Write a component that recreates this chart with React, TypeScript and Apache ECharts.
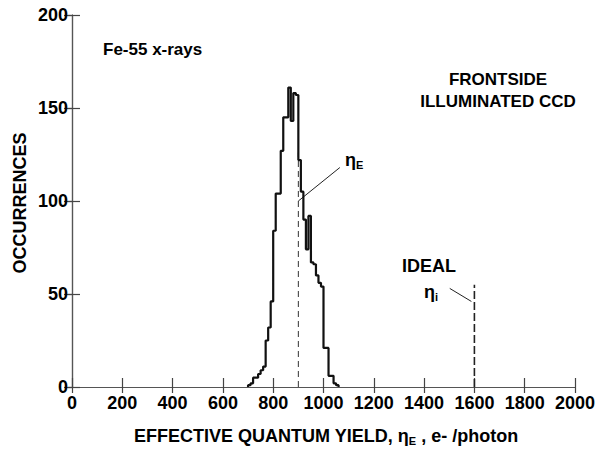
import React, { useEffect, useRef } from "react";
import * as echarts from "echarts";

// Histogram bins (left edge of each bin, e-/photon) and occurrences
const binStarts = [
  700, 710, 720, 730, 740, 750, 760, 770, 780, 790, 800, 810, 820, 830, 840, 850,
  860, 870, 880, 890, 900, 910, 920, 930, 940, 950, 960, 970, 980, 990, 1000, 1010,
  1020, 1030, 1040, 1050,
];
const counts = [
  1, 2, 5, 5, 7, 9, 11, 25, 32, 46, 84, 104, 104, 127, 145, 145,
  161, 143, 158, 157, 122, 105, 90, 74, 92, 67, 66, 60, 56, 54, 21, 21,
  6, 6, 2, 1,
];
const binWidth = 10;

// Marker lines
const etaE = [900, 126]; // effective yield, top of dashed line
const etaIdeal = [1600, 55]; // ideal yield
const etaELeader = [[900, 100], [1065, 118]];
const idealLeader = [[1502, 53], [1588, 46]];

const xTicks = { min: 0, max: 2000, interval: 200 };
const yTicks = { min: 0, max: 200, interval: 50 };

const FONT = "'Liberation Sans', Arial, sans-serif";

function buildOption() {
  const hist: number[][] = [[binStarts[0], 0]];
  binStarts.forEach((x, i) => hist.push([x, counts[i]]));
  hist.push([binStarts[binStarts.length - 1] + binWidth, 0]);

  const axisLine = { show: true, lineStyle: { color: "#555", width: 1.2 } };
  const tickStyle = { color: "#444", width: 1.2 };
  const label = {
    color: "#000",
    fontFamily: FONT,
    fontWeight: "bold",
    fontSize: 18,
    formatter: (v: number) => String(v),
  };

  return {
    animation: false,
    backgroundColor: "#fff",
    grid: { left: 72, top: 15, width: 503, height: 372, containLabel: false },
    xAxis: [
      {
        type: "value",
        position: "bottom",
        ...xTicks,
        axisLine,
        axisTick: { show: true, inside: true, length: 9, lineStyle: tickStyle },
        axisLabel: { ...label, margin: 7 },
        splitLine: { show: false },
      },
      {
        type: "value",
        position: "top",
        ...xTicks,
        axisLine,
        axisTick: { show: true, inside: true, length: 6, lineStyle: tickStyle },
        axisLabel: { show: false },
        splitLine: { show: false },
      },
    ],
    yAxis: [
      {
        type: "value",
        position: "left",
        ...yTicks,
        axisLine,
        axisTick: { show: true, inside: false, length: 4, lineStyle: tickStyle },
        axisLabel: { ...label, margin: 4 },
        splitLine: { show: false },
      },
      {
        type: "value",
        position: "right",
        ...yTicks,
        axisLine,
        axisTick: { show: true, inside: true, length: 8, lineStyle: tickStyle },
        axisLabel: { show: false },
        splitLine: { show: false },
      },
      {
        type: "value",
        position: "left",
        ...yTicks,
        axisLine: { show: false },
        axisTick: { show: true, inside: true, length: 8, lineStyle: tickStyle },
        axisLabel: { show: false },
        splitLine: { show: false },
      },
    ],
    series: [
      {
        type: "line",
        step: "end",
        data: hist,
        showSymbol: false,
        lineStyle: { color: "#111", width: 2.2 },
        z: 5,
      },
      {
        type: "line",
        data: [[etaE[0], 0], [etaE[0], etaE[1]]],
        showSymbol: false,
        lineStyle: { color: "#333", width: 1, type: [6, 4] },
      },
      {
        type: "line",
        data: [[etaIdeal[0], 0], [etaIdeal[0], etaIdeal[1]]],
        showSymbol: false,
        lineStyle: { color: "#222", width: 1.6, type: [8, 3] },
      },
      {
        type: "line",
        data: etaELeader,
        showSymbol: false,
        lineStyle: { color: "#222", width: 1 },
      },
      {
        type: "line",
        data: idealLeader,
        showSymbol: false,
        lineStyle: { color: "#222", width: 1 },
      },
    ],
    graphic: [
      {
        type: "text",
        x: 103,
        y: 49,
        style: { text: "Fe-55 x-rays", font: `bold 17px ${FONT}`, fill: "#000", verticalAlign: "middle" },
      },
      {
        type: "text",
        x: 498,
        y: 79,
        style: { text: "FRONTSIDE", font: `bold 17px ${FONT}`, fill: "#000", align: "center", verticalAlign: "middle" },
      },
      {
        type: "text",
        x: 498,
        y: 101,
        style: { text: "ILLUMINATED CCD", font: `bold 17px ${FONT}`, fill: "#000", align: "center", verticalAlign: "middle" },
      },
      {
        type: "text",
        x: 402,
        y: 266,
        style: { text: "IDEAL", font: `bold 18px ${FONT}`, fill: "#000", verticalAlign: "middle" },
      },
      {
        type: "text",
        x: 424,
        y: 282,
        style: {
          text: "{a|η}{s|i}",
          rich: {
            a: { fontFamily: FONT, fontWeight: "bold", fontSize: 18, color: "#000" },
            s: { fontFamily: FONT, fontWeight: "bold", fontSize: 11, color: "#000", padding: [9, 0, 0, 0] },
          },
        },
      },
      {
        type: "text",
        x: 345,
        y: 150,
        style: {
          text: "{a|η}{s|E}",
          rich: {
            a: { fontFamily: FONT, fontWeight: "bold", fontSize: 18, color: "#000" },
            s: { fontFamily: FONT, fontWeight: "bold", fontSize: 11, color: "#000", padding: [9, 0, 0, 0] },
          },
        },
      },
      {
        type: "text",
        x: 20,
        y: 203,
        rotation: Math.PI / 2,
        style: { text: "OCCURRENCES", font: `bold 18px ${FONT}`, fill: "#000", align: "center", verticalAlign: "middle" },
      },
      {
        type: "text",
        x: 326,
        y: 426,
        style: {
          text: "{t|EFFECTIVE QUANTUM YIELD, η}{s|E}{t| , e- /photon}",
          align: "center",
          rich: {
            t: { fontFamily: FONT, fontWeight: "bold", fontSize: 18, color: "#000" },
            s: { fontFamily: FONT, fontWeight: "bold", fontSize: 11, color: "#000", padding: [9, 0, 0, 0] },
          },
        },
      },
    ],
  };
}

export default function App() {
  const ref = useRef<HTMLDivElement>(null);
  useEffect(() => {
    document.body.style.margin = "0";
    const chart = echarts.init(ref.current as HTMLDivElement, null, { renderer: "svg" });
    chart.setOption(buildOption() as any);
    return () => chart.dispose();
  }, []);
  return <div ref={ref} style={{ width: 605, height: 449, position: "absolute", left: 0, top: 0 }} />;
}
